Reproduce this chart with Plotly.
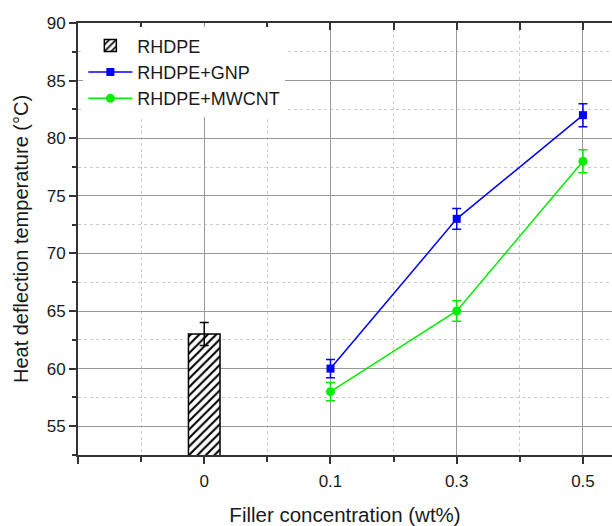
import plotly.graph_objects as go

categories = ["0", "0.1", "0.3", "0.5"]
bar_name = "RHDPE"
bar_value = [63]
bar_err = [1.0]
gnp_name = "RHDPE+GNP"
gnp_values = [60, 73, 82]
gnp_err = [0.8, 0.9, 1.0]
mw_name = "RHDPE+MWCNT"
mw_values = [58, 65, 78]
mw_err = [0.8, 0.9, 1.0]

pos = {c: i + 1 for i, c in enumerate(categories)}
fill_cats = categories[1:]

FONT = "Liberation Sans, Arial, sans-serif"
fig = go.Figure()
fig.add_trace(go.Bar(
    x=[pos["0"]], y=bar_value, name=bar_name, width=0.25,
    marker=dict(color="white", line=dict(color="black", width=1.5),
                pattern=dict(shape="/", fgcolor="black", bgcolor="white", fgopacity=1,
                             size=6, solidity=0.35)),
    error_y=dict(type="data", array=bar_err, color="black", thickness=1.5, width=4.5),
))
fig.add_trace(go.Scatter(
    x=[pos[c] for c in fill_cats], y=gnp_values, name=gnp_name, mode="lines+markers",
    line=dict(color="#0000ff", width=1.5), marker=dict(symbol="square", size=8, color="#0000ff"),
    error_y=dict(type="data", array=gnp_err, color="#0000ff", thickness=1.5, width=4.5),
))
fig.add_trace(go.Scatter(
    x=[pos[c] for c in fill_cats], y=mw_values, name=mw_name, mode="lines+markers",
    line=dict(color="#00ee00", width=1.5), marker=dict(symbol="circle", size=9, color="#00ee00"),
    error_y=dict(type="data", array=mw_err, color="#00ee00", thickness=1.5, width=4.5),
))

xr = [0, 4.23]
fig.update_layout(
    width=612, height=526,
    margin=dict(l=78, r=0, t=23, b=71),
    paper_bgcolor="white", plot_bgcolor="white",
    font=dict(family=FONT, size=17, color="#1a1a1a"),
    showlegend=True,
    legend=dict(x=0.01, y=0.99, xanchor="left", yanchor="top", bgcolor="white",
                font=dict(size=18), itemwidth=44, tracegroupgap=0),
    xaxis=dict(
        range=xr, tickmode="array", tickvals=[0] + [pos[c] for c in categories],
        ticktext=[""] + categories, ticks="outside", ticklen=7, tickwidth=1.5, tickcolor="#333",
        showline=True, linecolor="#333", linewidth=2, ticklabelstandoff=3,
        showgrid=True, gridcolor="#999", gridwidth=1,
        minor=dict(tickvals=[0.5, 1.5, 2.5, 3.5], ticks="outside", ticklen=5, tickcolor="#333",
                   showgrid=True, gridcolor="#ccc", griddash="dot"),
        title=dict(text="Filler concentration (wt%)", font=dict(size=20.5), standoff=17),
        tickfont=dict(size=17), zeroline=False,
    ),
    xaxis2=dict(
        range=xr, overlaying="x", side="top", tickmode="array",
        tickvals=[0.5, 1.5, 2, 2.5, 3, 3.5, 4], ticks="inside", ticklen=7, tickwidth=1.5,
        tickcolor="#333", showticklabels=False, showline=True, linecolor="#333", linewidth=2,
        showgrid=False, zeroline=False,
    ),
    yaxis=dict(
        range=[52.5, 90], tickmode="linear", tick0=55, dtick=5, ticks="outside", ticklen=7,
        tickwidth=1.5, tickcolor="#333", showline=True, linecolor="#333", linewidth=2,
        showgrid=True, gridcolor="#999", gridwidth=1, zeroline=False,
        minor=dict(tick0=52.5, dtick=2.5, ticks="outside", ticklen=4, tickcolor="#333",
                   showgrid=True, gridcolor="#ccc", griddash="dot"),
        title=dict(text="Heat deflection temperature (°C)", font=dict(size=20), standoff=13),
        tickfont=dict(size=17),
    ),
)
# invisible trace to activate top axis
fig.add_trace(go.Scatter(x=[None], y=[None], xaxis="x2", showlegend=False, hoverinfo="skip"))
fig.write_html("out.html")
